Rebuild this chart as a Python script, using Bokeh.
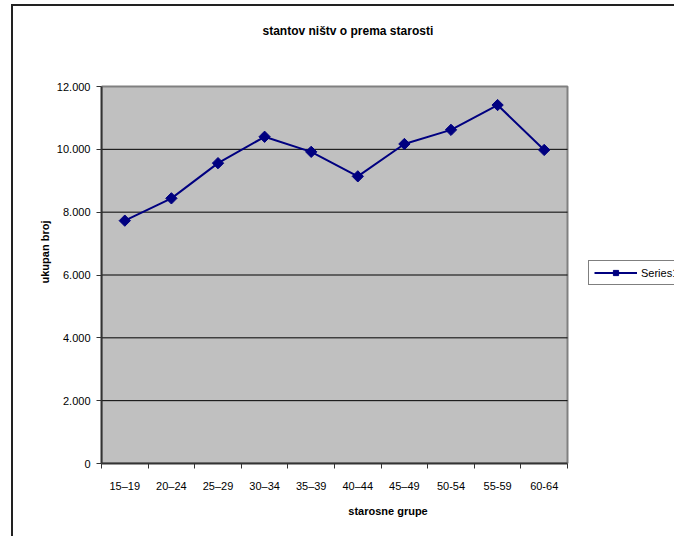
import math
from bokeh.plotting import figure
from bokeh.layouts import column
from bokeh.models import FixedTicker, Range1d, Legend, LegendItem
from bokeh.embed import file_html
from bokeh.resources import INLINE

title_text = "stantov ništv o prema starosti"
x_label = "starosne grupe"
y_label = "ukupan broj"
series_name = "Series1"

categories = ["15–19", "20–24", "25–29", "30–34", "35–39", "40–44",
              "45–49", "50-54", "55-59", "60-64"]
values = [7730, 8440, 9560, 10400, 9920, 9140, 10170, 10620, 11410, 9980]

y_ticks = [0, 2000, 4000, 6000, 8000, 10000, 12000]
y_tick_labels = ["0", "2.000", "4.000", "6.000", "8.000", "10.000", "12.000"]

FONT = "Liberation Sans"

# layout (pixels)
W, H = 661, 530
ML, MR, MT, MB = 88, 0, 34, 73
PLOT_W, PLOT_H = 466, 377          # size of the grey plot area
frame_w = W - ML - MR
frame_h = H - MT - MB

n = len(categories)
y_max = y_ticks[-1]
xs = [i + 0.5 for i in range(n)]

p = figure(width=W, height=H, output_backend="svg", toolbar_location=None,
           x_range=Range1d(0, n * frame_w / PLOT_W),
           y_range=Range1d(0, y_max * frame_h / PLOT_H),
           min_border_left=ML, min_border_right=MR, min_border_top=MT,
           min_border_bottom=MB)

p.title.text = title_text
p.title.align = "left"
p.title.offset = 161
p.title.vertical_align = "bottom"
p.title.standoff = 6
p.title.text_font = FONT
p.title.text_font_size = "12px"
p.title.text_font_style = "bold"
p.title.text_color = "#000000"

p.background_fill_color = "#FFFFFF"
p.border_fill_color = "#FFFFFF"
p.outline_line_color = None
p.xgrid.visible = False
p.ygrid.visible = False

# grey plot area with its grey border
p.quad(left=[0], right=[n], bottom=[0], top=[y_max],
       fill_color="#C0C0C0", line_color="#808080", line_width=2)
# horizontal gridlines
grid_vals = y_ticks[1:-1]
p.segment(x0=[0] * len(grid_vals), x1=[n] * len(grid_vals),
          y0=grid_vals, y1=grid_vals, line_color="#000000", line_width=1)

# y axis
p.yaxis.bounds = (0, y_max)
p.yaxis.ticker = FixedTicker(ticks=y_ticks)
p.yaxis.major_label_overrides = {t: l for t, l in zip(y_ticks, y_tick_labels)}
p.yaxis.minor_tick_line_color = None
p.yaxis.major_tick_in = 0
p.yaxis.major_tick_out = 5
p.yaxis.major_tick_line_color = "#333333"
p.yaxis.axis_line_color = "#333333"
p.yaxis.axis_line_width = 2
p.yaxis.major_label_standoff = 6
p.yaxis.major_label_text_font = FONT
p.yaxis.major_label_text_font_size = "11px"
p.yaxis.major_label_text_color = "#000000"
p.yaxis.axis_label = y_label
p.yaxis.axis_label_text_font = FONT
p.yaxis.axis_label_text_font_size = "11px"
p.yaxis.axis_label_text_font_style = "bold"
p.yaxis.axis_label_text_color = "#000000"
p.yaxis.axis_label_standoff = 3

# x axis: labels at category centres, ticks between categories
p.xaxis.bounds = (0, n)
p.xaxis.ticker = FixedTicker(ticks=xs, minor_ticks=list(range(n + 1)))
p.xaxis.major_label_overrides = {x: c for x, c in zip(xs, categories)}
p.xaxis.major_tick_line_color = None
p.xaxis.major_tick_in = 0
p.xaxis.major_tick_out = 0
p.xaxis.minor_tick_in = 0
p.xaxis.minor_tick_out = 5
p.xaxis.minor_tick_line_color = "#333333"
p.xaxis.axis_line_color = "#333333"
p.xaxis.axis_line_width = 2
p.xaxis.major_label_standoff = 11
p.xaxis.major_label_text_font = FONT
p.xaxis.major_label_text_font_size = "11px"
p.xaxis.major_label_text_color = "#000000"
p.xaxis.axis_label = x_label
p.xaxis.axis_label_text_font = FONT
p.xaxis.axis_label_text_font_size = "11px"
p.xaxis.axis_label_text_font_style = "bold"
p.xaxis.axis_label_text_color = "#000000"
p.xaxis.axis_label_standoff = 10

line = p.line(xs, values, line_color="#000080", line_width=2)
pts = p.scatter(xs, values, marker="square", angle=math.pi / 4, size=8,
                fill_color="#000080", line_color="#000080")

legend = Legend(items=[LegendItem(label=series_name, renderers=[line, pts])],
                location=(487, 178), orientation="vertical",
                border_line_color="#000000", border_line_width=1,
                background_fill_color="#FFFFFF", background_fill_alpha=1,
                label_text_font=FONT, label_text_font_size="11px",
                label_text_color="#000000",
                glyph_width=43, glyph_height=13, label_height=13,
                label_standoff=4, padding=5, spacing=0, margin=0)
p.add_layout(legend, "center")

layout = column(p, styles={"border-left": "2px solid #222222",
                           "border-top": "2px solid #222222",
                           "margin-left": "11px", "margin-top": "4px"})

open("out.html", "w").write(file_html(layout, INLINE))
